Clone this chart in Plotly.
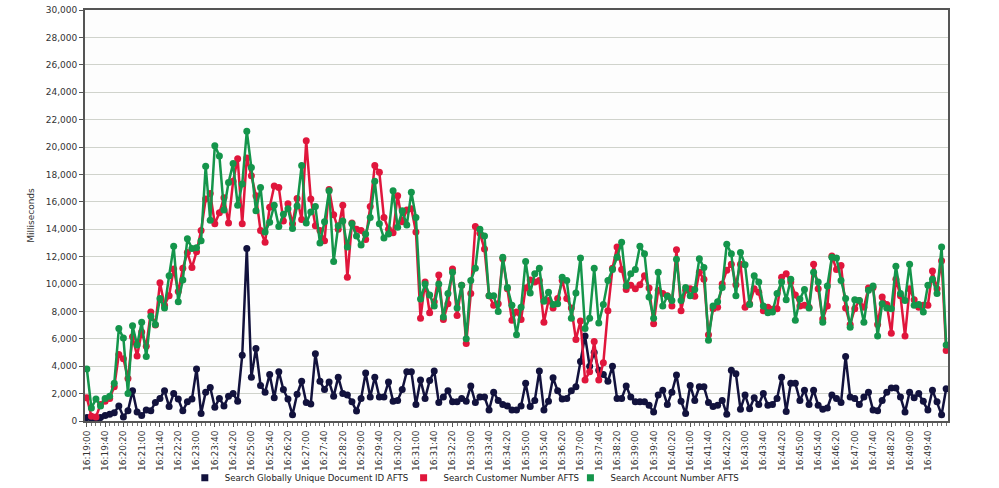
import pandas as pd
import plotly.graph_objs as go

# response times in ms, one sample every 10 seconds starting 16:19:00
doc_id_ms = [
    250, 200, 100, 250, 400, 500, 600, 1100, 300, 750, 2200, 650, 400, 800, 750, 1350, 1650, 2200, 1050, 2000,
    1600, 750, 1400, 1600, 3800, 550, 2100, 2450, 1000, 1650, 1100, 1800, 2000, 1450, 4800, 12600, 3200, 5300, 2600, 2100,
    3400, 1700, 3600, 2300, 1600, 450, 1950, 2900, 1350, 1250, 4900, 2900, 2300, 2850, 1800, 3200, 2000, 1900, 1400, 730,
    1650, 3500, 1750, 3200, 1750, 1750, 2850, 1450, 1500, 2300, 3600, 3600, 1200, 3000, 1650, 2950, 3650, 1350, 1750, 2200,
    1400, 1400, 1650, 1450, 2550, 1350, 1750, 1750, 800, 2100, 1500, 1200, 1100, 800, 800, 1100, 2750, 1050, 1500, 3650,
    800, 1450, 3150, 2200, 1600, 1650, 2200, 2500, 4350, 6200, 4000, 5000, 3700, 3400, 2900, 4000, 1650, 1650, 2550, 1750,
    1400, 1400, 1400, 1150, 650, 1900, 2250, 1200, 2100, 3350, 1450, 550, 2600, 1500, 2500, 2500, 1350, 1050, 1150, 1500,
    500, 3700, 3450, 850, 1900, 900, 1700, 1200, 2000, 1150, 1200, 1650, 3200, 700, 2750, 2750, 1500, 2250, 1200, 2250,
    1150, 850, 950, 1900, 1650, 1350, 4700, 1750, 1650, 1200, 1750, 2100, 800, 750, 1500, 2100, 2400, 2400, 1750, 650,
    2100, 1700, 2000, 1450, 800, 2250, 1400, 450, 2350,
]

customer_ms = [
    1700, 350, 300, 1200, 1450, 1650, 2500, 4850, 4550, 3100, 6150, 4750, 6500, 5450, 7950, 7000, 10100, 8450, 9150, 11100,
    9450, 11150, 12300, 11200, 12350, 13900, 16200, 16600, 14400, 15200, 16300, 14450, 17500, 19150, 14400, 19200, 17900, 16450, 13900, 13050,
    15600, 17150, 17050, 14600, 15850, 14400, 16250, 14700, 20450, 16200, 14250, 13900, 13150, 16900, 15050, 14000, 15750, 10500, 14450, 14000,
    13900, 13250, 15650, 18650, 18150, 14850, 14000, 13750, 16450, 14550, 15400, 15500, 13800, 7500, 10150, 7900, 8700, 10650, 7400, 8550,
    11100, 7700, 9900, 5650, 9300, 14200, 13700, 12550, 9150, 8450, 8550, 11850, 9650, 7350, 7950, 7400, 9700, 10300, 10150, 10250,
    7200, 8800, 8250, 8950, 10250, 8950, 8250, 5950, 7300, 3000, 3600, 5800, 3000, 4250, 8050, 11150, 12700, 11050, 9600, 9900,
    9650, 9950, 10600, 9700, 7100, 9550, 9300, 9150, 8400, 12500, 8050, 9550, 9650, 9100, 10850, 10350, 6300, 8200, 8300, 10000,
    11000, 11450, 9950, 11450, 8300, 8550, 9650, 9400, 8050, 8300, 8150, 8200, 10500, 10750, 10150, 9200, 8400, 8450, 8300, 11450,
    9650, 7450, 8400, 12050, 11050, 11350, 8250, 7050, 8200, 8800, 8300, 9700, 9750, 7050, 9050, 8500, 6400, 10350, 9150, 6200,
    9650, 8850, 8300, 8450, 8450, 10950, 9650, 11700, 5150,
]

account_ms = [
    3800, 950, 1600, 1100, 1650, 1800, 2750, 6750, 6050, 2000, 6950, 5550, 7200, 4700, 7650, 7050, 8950, 8250, 10600, 12750,
    8700, 10300, 13300, 12600, 12650, 13150, 18600, 14650, 20100, 19350, 15400, 17400, 18800, 15750, 17300, 21150, 18500, 15350, 17050, 13800,
    14500, 15750, 14200, 15100, 15500, 14050, 15700, 18650, 14450, 15250, 15650, 13000, 14550, 16800, 11650, 14250, 14600, 12700, 14400, 13500,
    12850, 13650, 14850, 17500, 14400, 13350, 13650, 16800, 14150, 15350, 14300, 16700, 14850, 8900, 10000, 9200, 8400, 10000, 7600, 9300,
    10850, 8250, 9900, 6000, 10250, 11150, 14000, 13500, 9150, 9150, 8000, 11950, 9750, 8450, 6300, 8300, 11650, 9350, 10750, 11150,
    8750, 9400, 8500, 8550, 10500, 10250, 7500, 9350, 11900, 6750, 7500, 11150, 7150, 8500, 10250, 11050, 11950, 13050, 9850, 10750,
    11050, 12750, 12200, 9050, 7500, 10850, 8400, 9100, 8800, 11800, 8800, 9750, 9150, 9600, 11850, 11200, 5900, 8400, 8700, 9750,
    12900, 12200, 9150, 12300, 11400, 8500, 10600, 10150, 8400, 7900, 7950, 9300, 10150, 8850, 10350, 7350, 8900, 9600, 8250, 10850,
    10150, 7200, 9850, 11950, 11900, 10250, 8950, 6850, 8850, 8800, 7200, 9550, 9850, 6200, 8550, 8250, 8200, 11300, 9300, 8800,
    11450, 8450, 8500, 7950, 9900, 10350, 9300, 12700, 5550,
]

times = pd.date_range('2000-01-01 16:19:00', periods=len(account_ms), freq='10s')
# the original labels every 40 s and stops at 16:49:40
label_times = times[:185:4]

series = [
    ('Search Globally Unique Document ID AFTS', doc_id_ms, '#12123d'),
    ('Search Customer Number AFTS', customer_ms, '#e0163c'),
    ('Search Account Number AFTS', account_ms, '#14954b'),
]

fig = go.Figure()
for name, values, color in series:
    fig.add_trace(go.Scatter(
        x=times, y=values, name=name, mode='lines+markers',
        line=dict(color=color, width=2.5),
        marker=dict(color=color, size=7),
        showlegend=False,
    ))

# square legend keys, each in its own legend so the spacing matches the original
legend_names = ['legend', 'legend2', 'legend3']
legend_left = [0.185, 0.404, 0.571]
for (name, values, color), lg in zip(series, legend_names):
    fig.add_trace(go.Scatter(
        x=[None], y=[None], name=name, mode='markers', legend=lg,
        marker=dict(color=color, size=7, symbol='square'),
    ))

font = dict(family='Lucida Grande, DejaVu Sans, sans-serif', size=9, color='#333333')

fig.update_layout(
    width=999, height=488,
    margin=dict(l=85, r=51, t=10, b=67),
    paper_bgcolor='white',
    plot_bgcolor='#fdfdfd',
    font=font,
)
for lg, left in zip(legend_names, legend_left):
    fig.update_layout({lg: dict(
        orientation='h',
        xref='container', x=left, xanchor='left',
        yref='container', y=0.021, yanchor='middle',
        bgcolor='rgba(0,0,0,0)',
        font=dict(family='Lucida Grande, DejaVu Sans, sans-serif', size=8.6, color='#222222'),
        itemwidth=30,
    )})

fig.update_xaxes(
    automargin=False,
    range=[times[0] - pd.Timedelta(seconds=4), times[-1] + pd.Timedelta(seconds=4)],
    tickmode='array', tickvals=label_times,
    ticktext=[t.strftime('%H:%M:%S') for t in label_times],
    tickangle=-90,
    ticks='outside', ticklen=4, tickcolor='#555555',
    minor=dict(tickmode='linear', dtick=10000, tick0=times[0], ticks='outside', ticklen=3, tickcolor='#777777'),
    showgrid=False,
    showline=True, linecolor='#555555', linewidth=2, mirror=True,
    tickfont=dict(size=9, color='#333333'),
)

fig.update_yaxes(
    automargin=False,
    range=[0, 30000], dtick=2000,
    tickformat=',d',
    ticks='outside', ticklen=4, tickcolor='#555555',
    showgrid=True, gridcolor='#d0d3cc', gridwidth=1,
    showline=True, linecolor='#555555', linewidth=2, mirror=True,
    zeroline=False,
    title=dict(text='Milliseconds', font=dict(size=9, color='#333333'), standoff=10),
    tickfont=dict(size=9, color='#333333'),
)

fig.write_html("out.html", config={'displayModeBar': False},
               post_script="document.body.style.margin='0';")
